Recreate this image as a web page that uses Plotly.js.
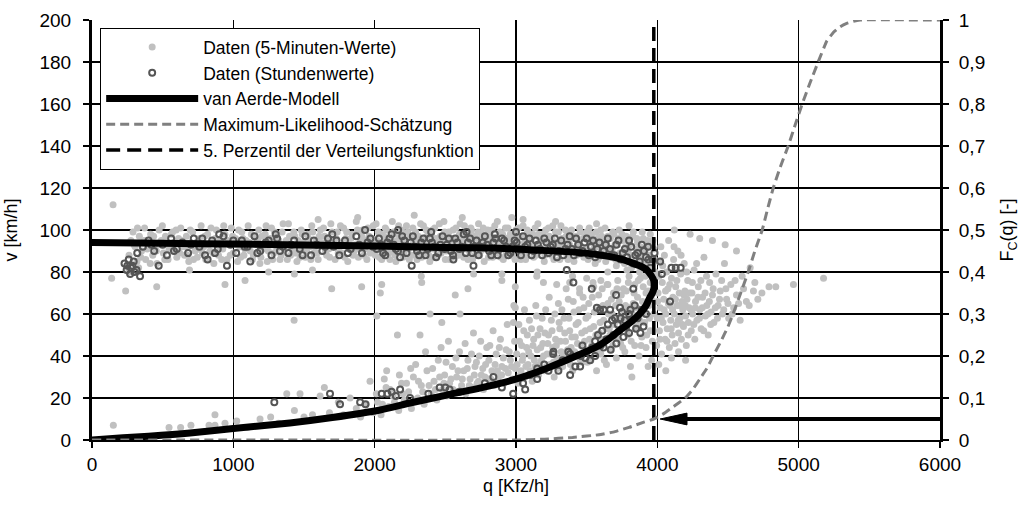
<!DOCTYPE html>
<html>
<head>
<meta charset="utf-8">
<script src="https://cdn.plot.ly/plotly-3.0.1.min.js"></script>
<style>
  html, body { margin: 0; padding: 0; background: #fff; }
  #chart { width: 1025px; height: 508px; }
</style>
</head>
<body>
<div id="chart"></div>
<script>
// 5-minute values, free-flow regime [q Kfz/h, v km/h]
const fiveMinFree = [
  [262,88],[275,95],[290,99],[305,92],[318,85],[335,97],[350,90],[372,101],[380,86],[398,94],[415,98],[430,88],[448,92],[460,84],[475,100],[490,95],[505,89],[520,97],[538,86],[552,93],[570,99],[585,90],[600,87],[612,96],
  [628,101],[640,92],[655,88],[668,97],[685,85],[700,94],[712,99],[730,90],[745,87],[760,96],[772,102],[790,92],[805,86],[818,98],[835,90],[850,94],[862,84],[880,100],[895,88],[910,95],[925,91],[940,98],[955,86],[970,93],[985,101],[1000,89],
  [1015,96],[1030,85],[1045,92],[1060,99],[1075,88],[1090,95],[1105,102],[1120,90],[1135,86],[1150,97],[1165,93],[1180,100],[1195,87],[1210,91],[1225,98],[1240,85],[1255,94],[1270,101],[1285,89],[1300,96],[1315,92],[1330,86],[1345,99],[1360,90],[1375,95],[1390,103],[1405,88],[1420,93],[1435,97],[1450,85],[1465,91],[1480,100],[1495,94],
  [1510,87],[1525,98],[1540,92],[1555,102],[1570,89],[1585,95],[1600,86],[1615,100],[1630,93],[1645,97],[1660,88],[1675,91],[1690,103],[1705,95],[1720,86],[1735,99],[1750,92],[1765,89],[1780,101],[1795,96],[1810,85],[1825,93],[1840,98],[1855,90],[1870,104],[1885,87],[1900,95],[1915,100],[1930,91],[1945,86],[1960,97],[1975,93],[1990,102],
  [2005,88],[2015,95],[2025,99],[2040,91],[2050,86],[2065,97],[2075,101],[2090,93],[2100,89],[2115,96],[2125,104],[2140,90],[2150,85],[2165,98],[2175,93],[2190,100],[2200,87],[2215,95],[2225,102],[2240,91],[2250,97],[2265,88],[2275,94],[2290,99],[2300,86],[2315,92],[2325,103],[2340,96],[2350,89],[2365,100],[2375,93],[2390,85],[2400,98],[2415,91],[2425,101],[2440,95],[2450,88],[2465,97],[2475,92],[2490,104],[2500,86],
  [2510,94],[2525,99],[2535,90],[2550,96],[2560,87],[2575,101],[2585,93],[2600,98],[2610,89],[2625,95],[2635,102],[2650,91],[2660,86],[2675,97],[2685,100],[2700,93],[2710,88],[2725,96],[2735,103],[2750,90],[2760,98],[2775,85],[2785,94],[2800,100],[2810,91],[2825,97],[2835,87],[2850,102],[2860,95],[2875,89],[2885,99],[2900,93],[2910,86],[2925,101],[2935,96],[2950,90],[2960,98],[2975,88],[2985,94],[3000,100],
  [3010,91],[3025,97],[3035,86],[3050,102],[3060,94],[3075,89],[3085,99],[3100,92],[3110,96],[3125,87],[3135,101],[3150,93],[3160,98],[3175,90],[3185,95],[3200,85],[3210,100],[3225,92],[3235,97],[3250,88],[3260,102],[3275,94],[3285,90],[3300,99],[3310,86],[3325,96],[3335,92],[3350,100],[3360,88],[3375,95],[3385,98],[3400,90],[3410,85],[3425,97],[3435,93],[3450,101],[3460,89],[3475,96],[3485,91],[3500,99],
  [3510,86],[3525,94],[3535,98],[3550,90],[3560,84],[3575,96],[3585,92],[3600,100],[3610,88],[3625,95],[3635,85],[3650,97],[3660,91],[3675,87],[3685,99],[3700,93],[3710,83],[3725,96],[3735,89],[3750,98],[3760,86],[3775,92],[3785,81],[3800,95],[3810,88],[3825,97],[3835,84],[3850,91],[3860,94],[3875,80],[3885,87],[3900,96],[3910,90],[3925,83],[3935,93],[3950,98],[3960,86],[3975,91],
  [149,112],[139,77],[238,71],[458,73],[941,74],[1083,76],[1432,79],[1696,72],[1908,73],[2050,74],[2015,59],[1430,57],[260,80],[330,82],[690,81],[1250,80],[1560,81],[2330,78],[2700,79],[2900,76],[3150,80],[3400,78],[3650,80],
  [1880,106],[2280,107],[2620,106],[3050,105],[2970,106],[1600,105],[3280,104],[3570,103],[3800,102]
];
const fiveMinFreeLate = [
  [298,93],[322,101],[345,87],[368,95],[390,91],[412,84],[436,97],[455,90],[482,93],[498,102],[515,86],[545,91],[562,98],[578,94],[595,100],[620,89],[633,95],[662,92],[676,88],[695,100],[718,86],[738,94],[752,91],[782,89],[798,97],[825,93],[842,101],[858,89],[872,96],[902,92],[918,86],[932,102],[962,95],[978,88],[995,97],
  [1022,93],[1038,100],[1052,87],[1068,96],[1082,91],[1112,94],[1128,98],[1142,88],[1172,95],[1188,84],[1202,97],[1218,93],[1232,102],[1248,90],[1262,96],[1278,86],[1292,99],[1308,91],[1322,95],[1338,88],[1352,103],[1368,93],[1382,86],[1398,97],[1412,91],[1428,99],[1442,89],[1458,95],[1472,87],[1488,98],[1502,93],[1518,90],[1532,96],[1548,86],[1562,99],[1578,92],[1592,89],[1608,97],[1622,94],[1638,101],[1652,90],[1668,95],[1682,87],[1698,99],[1712,92],[1728,96],[1742,89],[1758,102],[1772,93],[1788,87],[1802,99],[1818,91],[1832,96],[1848,88],[1862,93],[1878,100],[1892,91],[1908,97],[1922,88],[1938,95],[1952,101],[1968,89],[1982,96],[1998,91],
  [2010,103],[2020,92],[2033,87],[2045,98],[2058,94],[2070,89],[2083,100],[2095,96],[2108,86],[2120,93],[2133,99],[2145,88],[2158,95],[2170,102],[2183,91],[2195,97],[2208,89],[2220,94],[2233,99],[2245,86],[2258,92],[2270,101],[2283,96],[2295,89],[2308,97],[2320,94],[2333,87],[2345,102],[2358,91],[2370,97],[2383,88],[2395,94],[2408,100],[2420,87],[2433,96],[2445,92],[2458,103],[2470,89],[2483,95],[2495,99],
  [2505,90],[2518,97],[2530,86],[2543,93],[2555,100],[2568,91],[2580,96],[2593,88],[2605,103],[2618,93],[2630,87],[2643,98],[2655,95],[2668,90],[2680,101],[2693,86],[2705,97],[2718,92],[2730,99],[2743,88],[2755,95],[2768,101],[2780,91],[2793,97],[2805,87],[2818,94],[2830,100],[2843,90],[2855,96],[2868,104],[2880,92],[2893,87],[2905,98],[2918,94],[2930,89],[2943,101],[2955,95],[2968,91],[2980,97],[2993,86],
  [3003,95],[3018,101],[3030,89],[3043,97],[3055,92],[3068,86],[3080,100],[3093,95],[3105,90],[3118,98],[3130,93],[3143,88],[3155,103],[3168,96],[3180,91],[3193,98],[3205,88],[3218,95],[3230,101],[3243,91],[3255,96],[3268,86],[3280,99],[3293,93],[3305,89],[3318,102],[3330,95],[3343,90],[3355,97],[3368,86],[3380,93],[3393,100],[3405,91],[3418,96],[3430,88],[3443,95],[3455,99],[3468,92],[3480,87],[3493,97],[3505,91],[3518,101],[3530,88],[3543,95],[3555,92],[3568,99],[3580,86],[3593,94],[3605,97],[3618,90],[3630,101],[3643,93],[3655,87],[3668,96],[3680,91],[3693,98],[3705,86],[3718,93],[3730,100],[3743,89],[3755,95],[3768,84],[3780,97],[3793,90],[3805,93],[3818,82],[3830,99],[3843,88],[3855,96],[3868,85],[3880,92],[3893,99],[3905,84],[3918,91],[3930,95],[3943,88],[3955,82],[3968,95],[3980,86]
];

// 5-minute values, congested regime and capacity region [q, v]
const fiveMinCongested = [
  [151,7],[545,6],[627,6],[700,7],[828,7],[870,12],[870,7],[941,8],[1024,9],[1100,6],[1189,10],[1264,11],[1320,8],[1378,22],[1432,14],[1472,22],[1500,11],[1560,12],[1614,21],[1644,25],[1680,13],[1743,18],[1780,12],[1826,20],[1870,15],[1900,11],[1940,17],[1967,28],[1990,13],
  [2020,18],[2045,12],[2081,25],[2085,33],[2100,16],[2130,21],[2161,50],[2170,14],[2190,27],[2210,19],[2240,23],[2260,15],[2274,30],[2290,36],[2305,20],[2321,50],[2330,26],[2350,17],[2370,33],[2392,60],[2400,22],[2420,28],[2440,19],[2450,38],[2475,56],[2480,24],[2495,31],
  [2510,21],[2522,47],[2530,27],[2550,35],[2565,23],[2580,30],[2600,42],[2604,60],[2615,26],[2630,33],[2645,22],[2660,38],[2675,29],[2690,25],[2699,51],[2710,35],[2725,27],[2740,40],[2755,31],[2770,24],[2785,36],[2793,44],[2800,29],[2815,45],[2830,33],[2845,26],[2860,41],[2875,30],[2890,48],[2900,35],[2915,27],[2930,43],[2945,32],[2960,38],[2975,29],[2982,56],[2985,64],[2995,34],
  [3005,41],[3015,27],[3025,47],[3035,33],[3045,38],[3055,52],[3065,30],[3075,44],[3085,36],[3095,57],[3105,40],[3115,28],[3125,48],[3135,35],[3145,59],[3150,43],[3160,31],[3170,53],[3180,38],[3190,46],[3200,33],[3210,62],[3220,41],[3230,50],[3240,36],[3250,57],[3260,44],[3270,30],[3280,48],[3290,39],[3300,65],[3310,53],[3320,42],[3330,35],[3340,58],[3350,47],[3360,38],[3370,67],[3380,52],[3390,44],[3400,33],[3410,61],[3420,49],[3430,40],[3440,56],[3450,70],[3460,45],[3470,37],[3480,63],[3490,52],[3500,43],
  [3510,59],[3520,48],[3530,38],[3540,68],[3550,54],[3560,44],[3570,33],[3580,62],[3590,51],[3600,41],[3610,72],[3620,57],[3630,47],[3640,36],[3650,65],[3660,53],[3670,43],[3680,60],[3690,70],[3700,49],[3710,39],[3720,57],[3730,66],[3740,46],[3750,53],[3760,62],[3770,42],[3780,71],[3790,50],[3800,58],[3810,35],[3820,30],[3830,65],[3840,45],[3850,55],[3860,68],[3870,40],[3880,61],[3890,49],[3900,73],[3910,56],[3920,44],[3935,35],[3940,64],[3950,52],[3960,38],
  [3720,76],[3760,72],[3800,78],[3840,74],[3880,77],[3920,70],[3950,75],[3970,66],[3985,80],[3600,76],[3650,74],[3500,77],[3550,73],[3450,72],[3380,75],[3288,74],[3194,75],[3147,78],[2995,73],[2995,63],[2900,79],[2660,72],[2570,69],[2333,75],[2040,70],
  [3995,45],[4000,58],[4005,70],[4010,85],[4015,52],[4020,63],[4025,92],[4030,41],[4035,75],[4040,56],[4045,67],[4050,88],[4055,48],[4060,60],[4065,80],[4070,53],[4075,72],[4080,95],[4085,44],[4090,64],[4095,57],[4100,77],[4105,50],[4110,68],[4115,86],[4120,60],[4125,46],[4130,73],[4135,55],[4140,64],[4145,90],[4150,51],[4155,70],[4160,58],[4165,79],[4170,48],[4175,66],[4180,62],[4185,54],[4190,84],[4195,71],[4200,59],[4205,45],[4210,67],[4215,76],[4220,56],[4225,63],[4232,98],[4240,52],[4245,70],[4250,60],[4260,81],[4265,48],[4270,66],[4280,57],[4290,73],[4300,62],[4310,53],[4320,68],[4330,87],[4340,59],[4350,64],[4360,50],[4370,75],[4380,61],[4390,69],[4400,56],[4415,79],[4430,64],[4445,71],[4460,60],[4475,84],[4490,67],[4505,58],[4520,74],[4540,63],[4560,69],[4586,57],[4600,78],[4630,66],[4657,82],[4680,71],[4711,67],[4838,73],[4963,74],[5176,77],[4560,90],[4480,93],[4390,95],[4120,100],[4300,96],
  [4010,36],[4060,33],[4100,39],[4150,42],[4200,38]
];
const fiveMinCongestedLate = [
  [2012,22],[2055,17],[2068,29],[2110,24],[2140,18],[2175,31],[2200,22],[2225,27],[2255,34],[2280,19],[2310,28],[2340,23],[2360,42],[2385,26],[2410,34],[2430,24],[2460,30],[2470,44],[2490,27],[2505,37],[2540,29],[2555,24],[2575,39],[2590,33],[2620,29],[2640,46],[2655,34],[2670,26],[2685,41],[2705,31],[2720,37],[2735,28],[2750,47],[2765,34],[2780,30],[2808,38],[2822,29],[2838,52],[2852,36],[2868,33],[2882,44],[2898,31],[2910,39],[2925,34],[2938,55],[2952,42],[2968,35],[2990,47],
  [3008,36],[3020,55],[3030,31],[3040,45],[3050,40],[3060,62],[3070,35],[3080,50],[3090,42],[3100,33],[3110,53],[3120,45],[3130,38],[3140,64],[3155,50],[3165,36],[3175,44],[3185,58],[3195,40],[3205,51],[3215,35],[3225,46],[3235,68],[3245,41],[3255,52],[3265,37],[3275,60],[3285,45],[3295,34],[3305,56],[3315,47],[3325,62],[3335,40],[3345,51],[3355,72],[3365,43],[3375,58],[3385,36],[3395,49],[3405,66],[3415,42],[3425,55],[3435,46],[3445,62],[3455,38],[3465,51],[3475,68],[3485,47],[3495,58],[3505,37],[3515,65],[3525,53],[3535,45],[3545,75],[3555,61],[3565,50],[3575,42],[3585,69],[3595,56],[3605,48],[3615,64],[3625,38],[3635,53],[3645,74],[3655,60],[3665,50],[3675,67],[3685,45],[3695,55],[3705,64],[3715,72],[3725,48],[3735,59],[3745,69],[3755,44],[3765,56],[3775,64],[3785,52],[3795,75],[3805,63],[3815,47],[3825,60],[3835,70],[3845,53],[3855,63],[3865,76],[3875,57],[3885,45],[3895,66],[3905,60],[3915,78],[3925,50],[3935,71],[3945,58],[3955,68],[3965,47],[3975,60],
  [4002,66],[4012,78],[4018,48],[4028,58],[4038,83],[4048,62],[4058,71],[4068,47],[4078,65],[4088,74],[4098,53],[4108,62],[4118,92],[4128,67],[4138,76],[4148,57],[4158,64],[4168,88],[4178,55],[4188,69],[4198,64],[4208,80],[4218,50],[4228,70],[4238,62],[4248,75],[4258,55],[4268,63],[4278,84],[4288,68],[4298,58],[4308,76],[4318,63],[4328,52],[4338,70],[4348,78],[4358,60],[4368,66],[4378,55],[4395,72],[4410,63],[4425,58],[4440,67],[4455,76],[4470,62],[4485,72],[4500,65],[4530,60],[4550,76],[4575,65],[4610,72],[4650,64],[4690,75],[4740,70],[4790,73]
];

// hourly values [q, v]
const hourlyFree = [
  [230,84],[245,81],[260,86],[270,79],[285,83],[300,80],[320,89],[340,78],[360,92],[250,83],[275,82],[295,85],[315,81],
  [400,95],[440,90],[472,83],[500,93],[530,88],[560,96],[600,91],[640,94],[680,89],[720,96],[760,92],[800,88],[818,86],[850,95],[890,91],[930,97],[955,83],[980,93],[1020,89],[1060,95],[1100,92],[1120,85],[1150,97],[1190,90],[1230,94],[1270,88],[1310,96],[1350,92],[1390,89],[1430,95],[1470,91],[1510,97],[1550,88],[1590,93],[1630,90],[1670,96],[1710,92],[1750,88],[1790,95],[1830,91],[1870,97],[1910,89],[1950,94],[1990,92],
  [2030,96],[2060,89],[2090,94],[2120,98],[2150,91],[2180,87],[2210,95],[2240,92],[2270,97],[2300,90],[2330,94],[2360,88],[2390,96],[2420,92],[2450,89],[2480,97],[2510,93],[2540,90],[2570,96],[2600,91],[2630,98],[2660,94],[2690,89],[2720,95],[2750,92],[2780,97],[2810,90],[2840,94],[2870,88],[2900,96],[2930,92],[2960,89],[2990,95],[3020,91],[3050,97],[3080,93],[3110,88],[3140,95],[3170,91],[3200,96],[3230,89],[3260,93],[3290,87],[3320,95],[3350,91],[3380,97],[3410,88],[3440,93],[3470,90],[3500,96],[3530,92],[3560,87],[3590,94],[3620,90],[3650,96],[3680,88],[3710,93],[3740,86],[3770,91],[3800,95],[3830,84],[3860,89],[3890,93],[3920,87],[3950,82],[3980,89],
  [1932,100],[2166,100],[2400,99],[2650,99],[2850,98],[3000,99],[1700,98],[1300,98],[900,98],
  [2262,83],[2557,86],[2699,83],[3359,81],[3937,86],[4020,85],[4032,79],[4100,82],[4130,82],[4165,82],
  [2015,91],[2045,93],[2075,88],[2105,96],[2135,93],[2165,90],[2195,97],[2225,89],[2255,94],[2285,92],[2315,88],[2345,96],[2375,91],[2405,94],[2435,87],[2465,93],[2495,91],[2525,96],[2555,88],[2585,94],[2615,92],[2645,89],[2675,96],[2705,92],[2735,88],[2765,94],[2795,93],[2825,88],[2855,96],[2885,91],[2915,95],[2945,88],[2975,92],[3005,94],[3035,88],[3065,92],[3095,96],[3125,90],[3155,93],[3185,88],[3215,94],[3245,92],[3275,96],[3305,90],[3335,88],[3365,93],[3395,91],[3425,96],[3455,89],[3485,94],[3515,88],[3545,95],[3575,91],[3605,88],[3635,93],[3665,91],[3695,88],[3725,95],[3755,89],[3785,87],[3815,92],[3845,88],[3875,85],[3905,90],[3935,92],[3965,86],
  [420,93],[580,90],[700,93],[780,96],[870,89],[1000,95],[1080,92],[1170,89],[1250,95],[1330,90],[1410,93],[1490,88],[1570,95],[1650,92],[1730,95],[1810,89],[1890,93],[1970,96]
];
const hourlyCongested = [
  [1290,18],[1684,22],[1755,17],[1897,18],[1935,17],[2050,22],
  [2090,22],[2120,23],[2150,21],[2180,24],[2250,20],[2380,22],[2460,25],[2500,25],[2530,24],[2840,30],[2980,22],[3050,27],[3065,24],[3100,31],[3150,34],[3200,36],[3263,41],[3265,42],[3300,33],[3370,42],[3383,31],[3383,41],[3420,35],[3454,35],[3460,40],[3490,39],[3524,38],[3540,44],[3560,47],[3600,45],[3640,48],[3670,43],[3690,50],[3710,46],[3730,52],[3760,49],[3780,54],[3800,51],[3820,57],[3850,53],[3880,51],[3902,54],[3920,60],
  [3572,63],[3595,62],[3620,62],[3666,62],[3700,58],[3736,63],[3750,61],[3800,60],[3840,64],[3830,72],[3708,69],[3536,72],[3406,75],[4090,66],
  [3470,45],[3500,42],[3580,50],[3610,52],[3650,55],[3680,57],[3720,55],[3740,58],[3770,57],[3810,62],[3860,58],[3890,62],[3560,40],[3620,44],[3150,29],[3230,33],[3330,38],[2900,25],[2780,27],[2600,23]
];

// van Aerde speed-flow relationship, lower branch up to capacity, then upper branch
const aerdeQ = [0, 220, 400, 694, 1000, 1400, 1700, 2038, 2250, 2510, 2750, 2980, 3220, 3454, 3572, 3660, 3737, 3810, 3878, 3920, 3949, 3965, 3975, 3977, 3972, 3955, 3926, 3890, 3830, 3750, 3666, 3550, 3359, 3123, 2888, 2500, 2000, 1500, 1000, 500, 0];
const aerdeV = [0, 1.1, 1.8, 3.3, 5.5, 8.1, 10.7, 14.3, 17.6, 21.4, 24.8, 28.6, 34.2, 40.8, 44.4, 48.3, 52.4, 56, 60.3, 64, 68.2, 70, 72, 74.6, 76.5, 78.5, 81, 82.5, 84.1, 86, 87.3, 88.5, 89.7, 90.5, 91.3, 91.7, 92.4, 92.9, 93.3, 93.7, 94];

// maximum-likelihood capacity distribution F_C(q)
const mlQ = [0, 3000, 3200, 3400, 3600, 3700, 3800, 3900, 3975, 4050, 4100, 4150, 4197, 4250, 4300, 4350, 4395, 4450, 4500, 4536, 4590, 4643, 4690, 4742, 4780, 4820, 4870, 4926, 4975, 5025, 5080, 5138, 5199, 5250, 5294, 5340, 5387, 5435, 6000];
const mlF = [0, 0, 0.002, 0.006, 0.013, 0.02, 0.03, 0.042, 0.05, 0.064, 0.076, 0.088, 0.1, 0.12, 0.145, 0.17, 0.2, 0.235, 0.27, 0.3, 0.35, 0.4, 0.45, 0.5, 0.55, 0.6, 0.65, 0.7, 0.75, 0.8, 0.85, 0.9, 0.95, 0.972, 0.984, 0.992, 0.997, 1, 1];

// 5th percentile of the capacity distribution
const percentileQ = 3975;
const percentileF = 0.05;

const xs = a => a.map(p => p[0]);
const ys = a => a.map(p => p[1]);
const fiveAll = fiveMinFree.concat(fiveMinFreeLate, fiveMinCongested, fiveMinCongestedLate);
const hourAll = hourlyFree.concat(hourlyCongested);

const FONT = 'Liberation Sans, Arial, sans-serif';

const traces = [
  {
    x: xs(fiveAll), y: ys(fiveAll), type: 'scatter', mode: 'markers',
    name: 'Daten (5-Minuten-Werte)',
    marker: { color: '#c0c0c0', size: 7, line: { width: 0 } }
  },
  {
    x: xs(hourAll), y: ys(hourAll), type: 'scatter', mode: 'markers',
    name: 'Daten (Stundenwerte)',
    marker: { color: '#555555', size: 6, symbol: 'circle-open', line: { width: 2, color: '#555555' } }
  },
  {
    x: aerdeQ, y: aerdeV, type: 'scatter', mode: 'lines',
    name: 'van Aerde-Modell',
    line: { color: '#000', width: 7, shape: 'spline', smoothing: 0.6 }
  },
  {
    x: mlQ, y: mlF, type: 'scatter', mode: 'lines', yaxis: 'y2',
    name: 'Maximum-Likelihood-Schätzung',
    line: { color: '#808080', width: 3, dash: '9px,5px', shape: 'spline', smoothing: 0.3 }
  },
  {
    x: [percentileQ, percentileQ], y: [0, 200], type: 'scatter', mode: 'lines',
    name: '5. Perzentil der Verteilungsfunktion',
    line: { color: '#000', width: 3.5, dash: '14px,7px' }
  }
];

// arrow pointing from the right axis to the percentile at F = 0.05
const tipQ = percentileQ + 45;
const headLen = 190;
const headHalf = 0.014;

const layout = {
  width: 1025, height: 508,
  margin: { l: 92, r: 85, t: 20, b: 68 },
  paper_bgcolor: '#fff', plot_bgcolor: '#fff',
  separators: ',.',
  font: { family: FONT, size: 19, color: '#000' },
  showlegend: true,
  legend: {
    x: 0.0094, y: 0.981, xanchor: 'left', yanchor: 'top',
    bgcolor: '#fff', bordercolor: '#000', borderwidth: 1.2,
    font: { family: FONT, size: 17.5, color: '#000' },
    itemwidth: 92, tracegroupgap: 0
  },
  xaxis: {
    range: [0, 6000], dtick: 1000, tick0: 0,
    showgrid: true, gridcolor: '#000', gridwidth: 1.5,
    showline: true, linecolor: '#000', linewidth: 2,
    ticks: 'outside', ticklen: 6, tickwidth: 1.5, tickcolor: '#000',
    zeroline: false,
    tickfont: { family: FONT, size: 19 },
    title: { text: 'q [Kfz/h]', font: { family: FONT, size: 18 }, standoff: 6 }
  },
  yaxis: {
    range: [0, 200], dtick: 20, tick0: 0,
    showgrid: true, gridcolor: '#000', gridwidth: 1.5,
    showline: true, linecolor: '#000', linewidth: 3,
    ticks: 'outside', ticklen: 6, tickwidth: 1.5, tickcolor: '#000',
    ticklabelstandoff: 8,
    zeroline: false,
    tickfont: { family: FONT, size: 19 },
    title: { text: 'v [km/h]', font: { family: FONT, size: 18 }, standoff: 18 }
  },
  yaxis2: {
    overlaying: 'y', side: 'right',
    range: [0, 1], dtick: 0.1, tick0: 0,
    showgrid: false, zeroline: false,
    showline: true, linecolor: '#000', linewidth: 3,
    ticks: 'outside', ticklen: 6, tickwidth: 1.5, tickcolor: '#000',
    ticklabelstandoff: 6,
    tickfont: { family: FONT, size: 19 },
    title: { text: 'F<sub>C</sub>(q) [-]', font: { family: FONT, size: 18 }, standoff: 16 }
  },
  shapes: [
    {
      type: 'line', xref: 'x', yref: 'y2',
      x0: tipQ + headLen * 0.8, x1: 6000, y0: percentileF, y1: percentileF,
      line: { color: '#000', width: 4 }
    },
    {
      type: 'path', xref: 'x', yref: 'y2',
      path: 'M ' + tipQ + ',' + percentileF +
            ' L ' + (tipQ + headLen) + ',' + (percentileF + headHalf) +
            ' L ' + (tipQ + headLen) + ',' + (percentileF - headHalf) + ' Z',
      fillcolor: '#000', line: { color: '#000', width: 1 }
    }
  ]
};

Plotly.newPlot('chart', traces, layout, { displayModeBar: false, staticPlot: true });
</script>
</body>
</html>
